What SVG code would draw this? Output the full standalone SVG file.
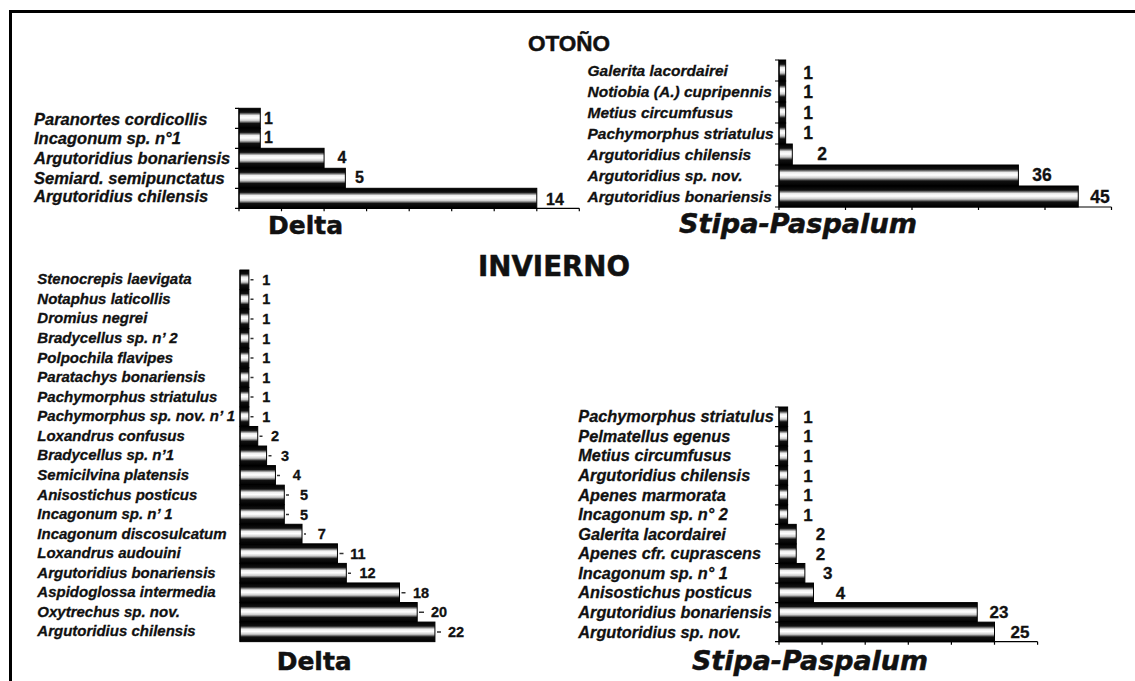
<svg xmlns="http://www.w3.org/2000/svg" width="1135" height="681" viewBox="0 0 1135 681">
<defs>
<linearGradient id="cyl" x1="0" y1="0" x2="0" y2="1">
<stop offset="0" stop-color="#000"/>
<stop offset="0.2" stop-color="#111"/>
<stop offset="0.36" stop-color="#eee"/>
<stop offset="0.48" stop-color="#fff"/>
<stop offset="0.62" stop-color="#ccc"/>
<stop offset="0.76" stop-color="#111"/>
<stop offset="1" stop-color="#000"/>
</linearGradient>
<style>
.lbl{font-family:"Liberation Sans",Arial,sans-serif;font-weight:bold;font-style:italic;fill:#111;stroke:#111;stroke-width:0.3}
.tl{font-size:16.5px}.tr{font-size:15.5px}.bl{font-size:15px}.br{font-size:16.3px}
.val{font-family:"Liberation Sans",Arial,sans-serif;font-weight:bold;fill:#111;stroke:#111;stroke-width:0.3}
.v1{font-size:16px}.v2{font-size:17.5px}.v3{font-size:14.5px;text-anchor:middle}.v4{font-size:17px;text-anchor:middle}
.ttl{font-family:"DejaVu Sans","Liberation Sans",sans-serif;font-weight:bold;fill:#111;stroke:#111;stroke-width:0.5}
.bar{fill:url(#cyl);stroke:#000;stroke-width:1}
.axis{stroke:#000;stroke-width:1.2;fill:none}
.err{stroke:#333;stroke-width:1.5}
</style>
</defs>
<rect x="0" y="0" width="1135" height="681" fill="#fff"/>
<path d="M10.5 681 V11.5 H1135" fill="none" stroke="#000" stroke-width="3"/>

<g id="titles">
<text class="ttl" x="569" y="51" text-anchor="middle" style="font-family:'Liberation Sans',Arial,sans-serif;font-size:22.5px">OTOÑO</text>
<text class="ttl" x="478" y="276" font-size="28" textLength="152" lengthAdjust="spacingAndGlyphs">INVIERNO</text>
</g>

<g id="otono-delta">
<text class="ttl" x="268" y="234" font-size="25" textLength="75" lengthAdjust="spacingAndGlyphs">Delta</text>
<g class="lbl tl">
<text x="34" y="124.5">Paranortes cordicollis</text>
<text x="34" y="143.5">Incagonum sp. n°1</text>
<text x="34" y="164">Argutoridius bonariensis</text>
<text x="34" y="183.5">Semiard. semipunctatus</text>
<text x="34" y="202">Argutoridius chilensis</text>
</g>
<rect class="bar" x="239" y="108.3" width="21.27" height="20"/>
<rect class="bar" x="239" y="128.3" width="21.27" height="20"/>
<rect class="bar" x="239" y="148.3" width="85.08" height="20"/>
<rect class="bar" x="239" y="168.3" width="106.35" height="20"/>
<rect class="bar" x="239" y="188.3" width="297.78" height="20"/>
<path class="axis" d="M239 108.3 V208.3 H579.3 M235 108.3 H239 M235 128.3 H239 M235 148.3 H239 M235 168.3 H239 M235 188.3 H239 M235 208.3 H239 M239 208.3 v3 M281.5 208.3 v3 M324.1 208.3 v3 M366.6 208.3 v3 M409.2 208.3 v3 M451.7 208.3 v3 M494.2 208.3 v3 M536.8 208.3 v3 M579.3 208.3 v3"/>
<g class="val v1">
<text x="264" y="123.5">1</text>
<text x="264" y="142.5">1</text>
<text x="337.5" y="163">4</text>
<text x="355" y="182.5">5</text>
<text x="546" y="205">14</text>
</g>
</g>

<g id="otono-stipa">
<text class="ttl" x="679" y="233" font-size="26" font-style="italic" textLength="238" lengthAdjust="spacingAndGlyphs">Stipa-Paspalum</text>
<g class="lbl tr">
<text x="587.5" y="76">Galerita lacordairei</text>
<text x="587.5" y="97">Notiobia (A.) cupripennis</text>
<text x="587.5" y="118">Metius circumfusus</text>
<text x="587.5" y="139">Pachymorphus striatulus</text>
<text x="587.5" y="160">Argutoridius chilensis</text>
<text x="587.5" y="181">Argutoridius sp. nov.</text>
<text x="587.5" y="202">Argutoridius bonariensis</text>
</g>
<rect class="bar" x="779" y="60" width="6.65" height="21"/>
<rect class="bar" x="779" y="81" width="6.65" height="21"/>
<rect class="bar" x="779" y="102" width="6.65" height="21"/>
<rect class="bar" x="779" y="123" width="6.65" height="21"/>
<rect class="bar" x="779" y="144" width="13.3" height="21"/>
<rect class="bar" x="779" y="165" width="239.4" height="21"/>
<rect class="bar" x="779" y="186" width="299.25" height="21"/>
<path class="axis" d="M779 60 V207 H1111.5 M775 60 H779 M775 81 H779 M775 102 H779 M775 123 H779 M775 144 H779 M775 165 H779 M775 186 H779 M775 207 H779 M779 207 v3 M845.5 207 v3 M912 207 v3 M978.5 207 v3 M1045 207 v3 M1111.5 207 v3"/>
<g class="val v2" text-anchor="middle">
<text x="808" y="79">1</text>
<text x="808" y="98">1</text>
<text x="808" y="119">1</text>
<text x="808" y="139">1</text>
<text x="822" y="160">2</text>
<text x="1042" y="181">36</text>
<text x="1100" y="203">45</text>
</g>
</g>

<g id="invierno-delta">
<text class="ttl" x="276.7" y="670" font-size="25" textLength="75" lengthAdjust="spacingAndGlyphs">Delta</text>
<g class="lbl bl">
<text x="37.3" y="284.3">Stenocrepis laevigata</text>
<text x="37.3" y="303.9">Notaphus laticollis</text>
<text x="37.3" y="323.4">Dromius negrei</text>
<text x="37.3" y="343">Bradycellus sp. n’ 2</text>
<text x="37.3" y="362.5">Polpochila flavipes</text>
<text x="37.3" y="382.1">Paratachys bonariensis</text>
<text x="37.3" y="401.7">Pachymorphus striatulus</text>
<text x="37.3" y="421.2">Pachymorphus sp. nov. n’ 1</text>
<text x="37.3" y="440.8">Loxandrus confusus</text>
<text x="37.3" y="460.3">Bradycellus sp. n’1</text>
<text x="37.3" y="479.9">Semicilvina platensis</text>
<text x="37.3" y="499.5">Anisostichus posticus</text>
<text x="37.3" y="519">Incagonum sp. n’ 1</text>
<text x="37.3" y="538.6">Incagonum discosulcatum</text>
<text x="37.3" y="558.1">Loxandrus audouini</text>
<text x="37.3" y="577.7">Argutoridius bonariensis</text>
<text x="37.3" y="597.3">Aspidoglossa intermedia</text>
<text x="37.3" y="616.8">Oxytrechus sp. nov.</text>
<text x="37.3" y="636.4">Argutoridius chilensis</text>
</g>
<rect class="bar" x="240" y="270" width="8.86" height="19.56"/>
<rect class="bar" x="240" y="289.56" width="8.86" height="19.56"/>
<rect class="bar" x="240" y="309.12" width="8.86" height="19.56"/>
<rect class="bar" x="240" y="328.68" width="8.86" height="19.56"/>
<rect class="bar" x="240" y="348.24" width="8.86" height="19.56"/>
<rect class="bar" x="240" y="367.8" width="8.86" height="19.56"/>
<rect class="bar" x="240" y="387.36" width="8.86" height="19.56"/>
<rect class="bar" x="240" y="406.92" width="8.86" height="19.56"/>
<rect class="bar" x="240" y="426.48" width="17.72" height="19.56"/>
<rect class="bar" x="240" y="446.04" width="26.58" height="19.56"/>
<rect class="bar" x="240" y="465.6" width="35.44" height="19.56"/>
<rect class="bar" x="240" y="485.16" width="44.3" height="19.56"/>
<rect class="bar" x="240" y="504.72" width="44.3" height="19.56"/>
<rect class="bar" x="240" y="524.28" width="62.02" height="19.56"/>
<rect class="bar" x="240" y="543.84" width="97.46" height="19.56"/>
<rect class="bar" x="240" y="563.4" width="106.32" height="19.56"/>
<rect class="bar" x="240" y="582.96" width="159.48" height="19.56"/>
<rect class="bar" x="240" y="602.52" width="177.2" height="19.56"/>
<rect class="bar" x="240" y="622.08" width="194.92" height="19.56"/>
<path class="axis" d="M240 270 V641.64"/>
<path class="err" d="M250.5 279.8 h3 M250.5 299.3 h3 M250.5 318.9 h3 M250.5 338.5 h3 M250.5 358 h3 M250.5 377.6 h3 M250.5 397.1 h3 M250.5 416.7 h3 M259.5 436.3 h3 M268.5 455.8 h3 M277 475.4 h3 M286 494.9 h3 M286 514.5 h3 M304 534.1 h2 M339.5 553.6 h4 M348 573.2 h3 M401.5 592.7 h4 M419 612.3 h5 M437 631.9 h4"/>
<g class="val v3">
<text x="266.4" y="284.8">1</text>
<text x="266.4" y="304.4">1</text>
<text x="266.4" y="323.9">1</text>
<text x="266.4" y="343.5">1</text>
<text x="266.4" y="363">1</text>
<text x="266.4" y="382.6">1</text>
<text x="266.4" y="402.2">1</text>
<text x="266.4" y="421.7">1</text>
<text x="275" y="441.3">2</text>
<text x="285" y="460.8">3</text>
<text x="296.7" y="480.4">4</text>
<text x="304" y="500">5</text>
<text x="304" y="519.5">5</text>
<text x="321.7" y="539.1">7</text>
<text x="358" y="558.6">11</text>
<text x="367.5" y="578.2">12</text>
<text x="421" y="597.8">18</text>
<text x="439" y="617.3">20</text>
<text x="456" y="636.9">22</text>
</g>
</g>

<g id="invierno-stipa">
<text class="ttl" x="692" y="670" font-size="26" font-style="italic" textLength="236" lengthAdjust="spacingAndGlyphs">Stipa-Paspalum</text>
<g class="lbl br">
<text x="578.3" y="422.3">Pachymorphus striatulus</text>
<text x="578.3" y="441.9">Pelmatellus egenus</text>
<text x="578.3" y="461.4">Metius circumfusus</text>
<text x="578.3" y="481">Argutoridius chilensis</text>
<text x="578.3" y="500.5">Apenes marmorata</text>
<text x="578.3" y="520.1">Incagonum sp. n° 2</text>
<text x="578.3" y="539.7">Galerita lacordairei</text>
<text x="578.3" y="559.2">Apenes cfr. cuprascens</text>
<text x="578.3" y="578.8">Incagonum sp. n° 1</text>
<text x="578.3" y="598.3">Anisostichus posticus</text>
<text x="578.3" y="617.9">Argutoridius bonariensis</text>
<text x="578.3" y="637.5">Argutoridius sp. nov.</text>
</g>
<rect class="bar" x="779" y="407" width="8.62" height="19.56"/>
<rect class="bar" x="779" y="426.56" width="8.62" height="19.56"/>
<rect class="bar" x="779" y="446.12" width="8.62" height="19.56"/>
<rect class="bar" x="779" y="465.68" width="8.62" height="19.56"/>
<rect class="bar" x="779" y="485.24" width="8.62" height="19.56"/>
<rect class="bar" x="779" y="504.8" width="8.62" height="19.56"/>
<rect class="bar" x="779" y="524.36" width="17.24" height="19.56"/>
<rect class="bar" x="779" y="543.92" width="17.24" height="19.56"/>
<rect class="bar" x="779" y="563.48" width="25.86" height="19.56"/>
<rect class="bar" x="779" y="583.04" width="34.48" height="19.56"/>
<rect class="bar" x="779" y="602.6" width="198.26" height="19.56"/>
<rect class="bar" x="779" y="622.16" width="215.5" height="19.56"/>
<path class="axis" d="M779 407 V641.72 H1037.6 M775 407 H779 M775 426.56 H779 M775 446.12 H779 M775 465.68 H779 M775 485.24 H779 M775 504.8 H779 M775 524.36 H779 M775 543.92 H779 M775 563.48 H779 M775 583.04 H779 M775 602.6 H779 M775 622.16 H779 M775 641.72 H779 M779 641.72 v3 M822.1 641.72 v3 M865.2 641.72 v3 M908.3 641.72 v3 M951.4 641.72 v3 M994.5 641.72 v3 M1037.6 641.72 v3"/>
<g class="val v4">
<text x="808" y="422.8">1</text>
<text x="808" y="442.4">1</text>
<text x="808" y="461.9">1</text>
<text x="808" y="481.5">1</text>
<text x="808" y="501">1</text>
<text x="808" y="520.6">1</text>
<text x="820.4" y="540.2">2</text>
<text x="820.4" y="559.7">2</text>
<text x="827.7" y="579.3">3</text>
<text x="840.5" y="598.8">4</text>
<text x="999" y="618.4">23</text>
<text x="1020" y="638">25</text>
</g>
</g>
</svg>
